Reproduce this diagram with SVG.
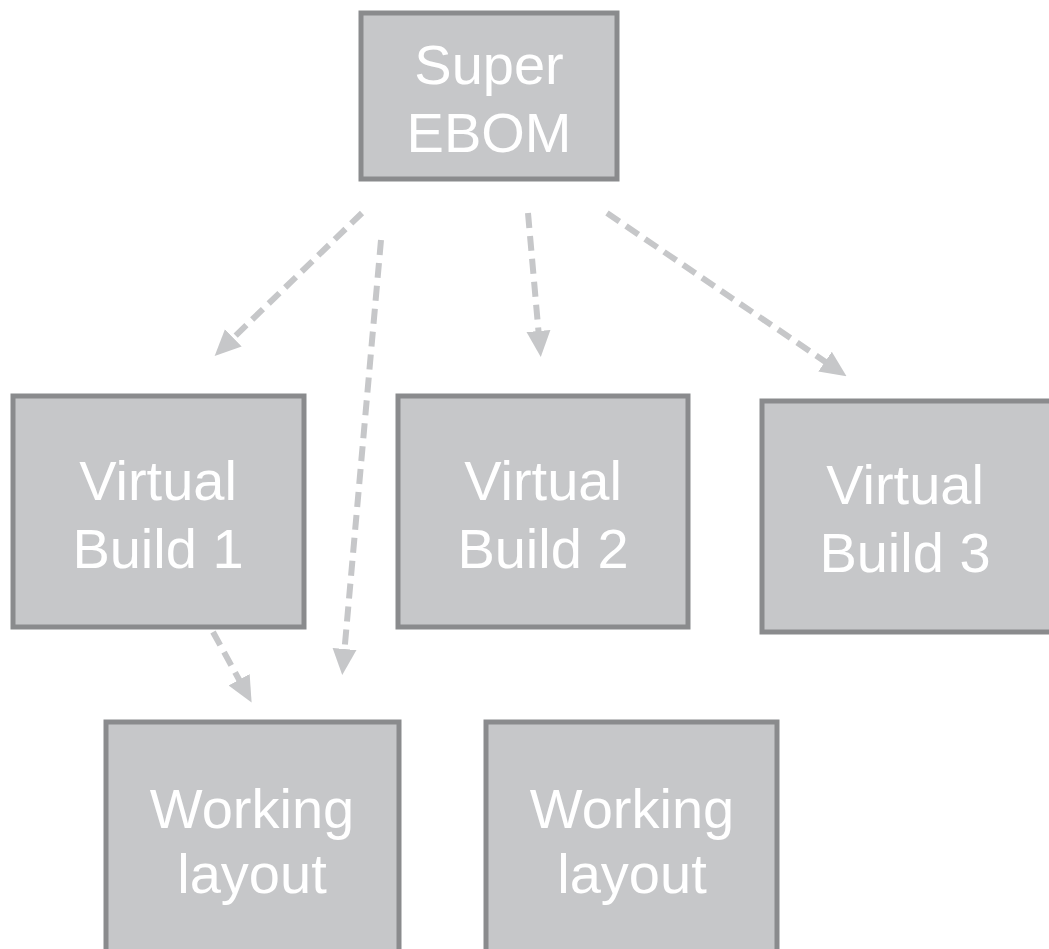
<svg xmlns="http://www.w3.org/2000/svg" width="1049" height="949" viewBox="0 0 1049 949">
<defs>
<style>
.box{fill:#c6c7c9;stroke:#8a8b8d;stroke-width:5}
.lbl{font-family:"Liberation Sans",Arial,sans-serif;font-size:56px;fill:#ffffff;text-anchor:middle}
.con{stroke:#c6c7c9;stroke-width:6;stroke-dasharray:15 8;fill:none}
</style>
<marker id="ah" markerUnits="userSpaceOnUse" markerWidth="26" markerHeight="26" viewBox="0 0 26 26" refX="6" refY="13" orient="auto">
<path d="M0,1 L26,13 L0,25 Z" fill="#c6c7c9"/>
</marker>
</defs>
<rect width="1049" height="949" fill="#ffffff"/>
<g id="connectors">
<line class="con" x1="362" y1="213" x2="229" y2="342" marker-end="url(#ah)"/>
<line class="con" x1="381" y1="240" x2="344" y2="655" marker-end="url(#ah)"/>
<line class="con" x1="528" y1="213" x2="539" y2="337" marker-end="url(#ah)"/>
<line class="con" x1="607" y1="213" x2="830" y2="365" marker-end="url(#ah)"/>
<line class="con" x1="213" y1="632" x2="242" y2="685" marker-end="url(#ah)"/>
</g>
<g id="super-ebom">
<rect class="box" x="361" y="13" width="256" height="166"/>
<text class="lbl" x="489" y="84">Super</text>
<text class="lbl" x="489" y="152">EBOM</text>
</g>
<g id="virtual-build-1">
<rect class="box" x="13" y="396" width="291" height="231"/>
<text class="lbl" x="158" y="500">Virtual</text>
<text class="lbl" x="158" y="568">Build 1</text>
</g>
<g id="virtual-build-2">
<rect class="box" x="398" y="396" width="290" height="231"/>
<text class="lbl" x="543" y="500">Virtual</text>
<text class="lbl" x="543" y="568">Build 2</text>
</g>
<g id="virtual-build-3">
<rect class="box" x="762" y="401" width="300" height="231"/>
<text class="lbl" x="905" y="504">Virtual</text>
<text class="lbl" x="905" y="572">Build 3</text>
</g>
<g id="working-layout-1">
<rect class="box" x="106" y="722" width="293" height="240"/>
<text class="lbl" x="252" y="828">Working</text>
<text class="lbl" x="252" y="893">layout</text>
</g>
<g id="working-layout-2">
<rect class="box" x="486" y="722" width="291" height="240"/>
<text class="lbl" x="632" y="828">Working</text>
<text class="lbl" x="632" y="893">layout</text>
</g>
</svg>
